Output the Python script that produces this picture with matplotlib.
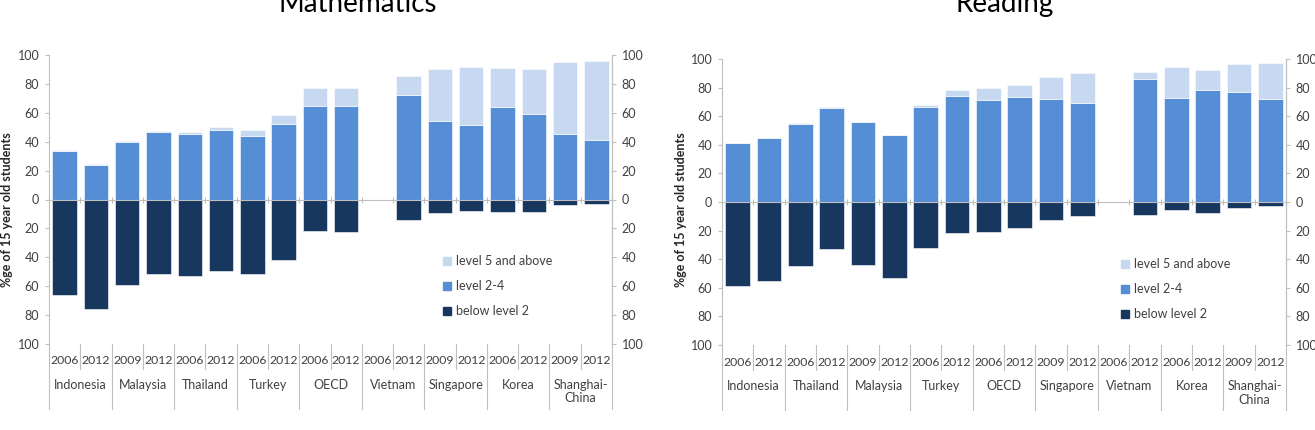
import numpy as np
import matplotlib
matplotlib.use("Agg")
import matplotlib.pyplot as plt
from matplotlib.patches import Patch
import matplotlib.transforms as mtransforms

plt.rcParams['font.family'] = ['Lato', 'DejaVu Sans']

nan = np.nan

# Mathematics
math_years = ['2006', '2012', '2009', '2012', '2006', '2012', '2006', '2012', '2006',
              '2012', '2006', '2012', '2009', '2012', '2006', '2012', '2009', '2012']
math_countries = ['Indonesia', 'Malaysia', 'Thailand', 'Turkey', 'OECD', 'Vietnam',
                  'Singapore', 'Korea', 'Shanghai-\nChina']
math_l24 = [33.5, 24, 40, 47, 45.5, 47.8, 44, 52.4, 64.8, 64.4, nan, 72.2, 54.3, 51.5, 63.9, 59.5, 45, 41]
math_l5 = [0.5, 0.3, 0.5, 0.5, 1.3, 2.6, 4, 5.9, 12.7, 12.6, nan, 13.3, 35.8, 40, 27.1, 31, 50, 55]
math_below = [65.8, 75.6, 59.3, 51.6, 52.8, 49.5, 51.9, 41.9, 22.1, 22.8, nan, 14, 9.3, 7.7, 8.4, 8.6, 4, 3.3]

# Reading
read_years = ['2006', '2012', '2006', '2012', '2009', '2012', '2006', '2012', '2006',
              '2012', '2009', '2012', '2006', '2012', '2006', '2012', '2009', '2012']
read_countries = ['Indonesia', 'Thailand', 'Malaysia', 'Turkey', 'OECD', 'Singapore',
                  'Vietnam', 'Korea', 'Shanghai-\nChina']
read_l24 = [41, 44.6, 54.6, 66, 55.7, 47, 66.1, 74.3, 71.3, 73.4, 71.7, 69.2, nan, 86, 72.4, 78.5, 76.6, 72.2]
read_l5 = [0.4, 0.3, 0.3, 0.5, 0.4, 0.2, 2, 4.2, 8.1, 8.6, 15.9, 21, nan, 5.1, 22, 14, 19.6, 25.2]
read_below = [58.6, 55.3, 44.7, 33, 44.2, 52.8, 32.3, 21.6, 21.2, 17.9, 12.6, 9.5, nan, 9.3, 5.8, 7.7, 4, 3]

c_l5 = '#c6d9f1'
c_l24 = '#558ed5'
c_below = '#17375e'
c_axis = '#bfbfbf'
c_text = '#404040'

W, H = 1315, 430
fig = plt.figure(figsize=(W / 100, H / 100), dpi=100)


def panel(rect_px, title, title_x, years, countries, l24, l5, below, ylab_x, leg_xy):
    x0, y0, x1, y1 = rect_px  # left, top, right, bottom in pixels
    ax = fig.add_axes([x0 / W, 1 - y1 / H, (x1 - x0) / W, (y1 - y0) / H])
    h_px = y1 - y0
    x = np.arange(len(years))
    l24 = np.array(l24)
    l5 = np.array(l5)
    below = np.array(below)
    ax.bar(x, l24, width=0.78, color=c_l24, edgecolor='white', linewidth=0.4)
    ax.bar(x, l5, bottom=l24, width=0.78, color=c_l5, edgecolor='white', linewidth=0.4)
    ax.bar(x, -below, width=0.78, color=c_below, edgecolor='white', linewidth=0.4)
    ax.set_xlim(-0.5, len(years) - 0.5)
    ax.set_ylim(-100, 100)
    ticks = np.arange(-100, 101, 20)
    ax.set_yticks(ticks)
    ax.set_yticklabels([str(abs(t)) for t in ticks])
    ax.tick_params(axis='y', colors=c_axis, labelcolor=c_text, labelsize=9, length=3, pad=4)
    ax.spines['top'].set_visible(False)
    ax.spines['left'].set_color(c_axis)
    ax.spines['right'].set_color(c_axis)
    ax.spines['bottom'].set_position(('data', 0))
    ax.spines['bottom'].set_color(c_axis)
    ax.set_xticks(np.arange(-0.5, len(years), 1))
    ax.set_xticklabels([])
    ax.tick_params(axis='x', direction='inout', length=4, colors=c_axis)

    ax2 = ax.twinx()
    ax2.set_ylim(-100, 100)
    ax2.set_yticks(ticks)
    ax2.set_yticklabels([str(abs(t)) for t in ticks])
    ax2.tick_params(axis='y', colors=c_axis, labelcolor=c_text, labelsize=9, length=3, pad=4)
    for s in ['top', 'left', 'bottom']:
        ax2.spines[s].set_visible(False)
    ax2.spines['right'].set_color(c_axis)

    # category axis below the plot
    tr = mtransforms.blended_transform_factory(ax.transData, ax.transAxes)
    short = -25 / h_px
    long_ = -65 / h_px
    for i, yr in enumerate(years):
        ax.text(i, -17 / h_px, yr, transform=tr, ha='center', va='center',
                fontsize=8.8, color=c_text)
        lo = long_ if i % 2 == 0 else short
        ax.plot([i - 0.5, i - 0.5], [0, lo], transform=tr, color=c_axis,
                linewidth=0.8, clip_on=False)
    ax.plot([len(years) - 0.5] * 2, [0, long_], transform=tr, color=c_axis,
            linewidth=0.8, clip_on=False)
    for j, name in enumerate(countries):
        ax.text(2 * j + 0.5, -35 / h_px, name, transform=tr, ha='center', va='top',
                fontsize=9, color=c_text, linespacing=1.15)

    fig.text(title_x / W, 1 - 12 / H, title, ha='center', va='baseline',
             fontsize=20, color='black')
    fig.text(ylab_x / W, 1 - 210 / H, '%ge of 15 year old students', rotation=90,
             ha='center', va='center', fontsize=9, fontweight='bold', color='#262626')

    handles = [Patch(color=c_l5, label='level 5 and above'),
               Patch(color=c_l24, label='level 2-4'),
               Patch(color=c_below, label='below level 2')]
    fig.legend(handles=handles, loc='upper left',
               bbox_to_anchor=(leg_xy[0] / W, 1 - leg_xy[1] / H),
               frameon=False, fontsize=9, labelcolor=c_text,
               handlelength=0.6, handleheight=0.6, handletextpad=0.4,
               labelspacing=1.05, borderaxespad=0, borderpad=0)
    return ax


panel((49, 55, 612, 344), 'Mathematics', 358, math_years, math_countries,
      math_l24, math_l5, math_below, 7, (443, 255))
panel((722, 59, 1286, 345), 'Reading', 1005, read_years, read_countries,
      read_l24, read_l5, read_below, 681, (1121, 258))

fig.savefig('out.png', dpi=100)
